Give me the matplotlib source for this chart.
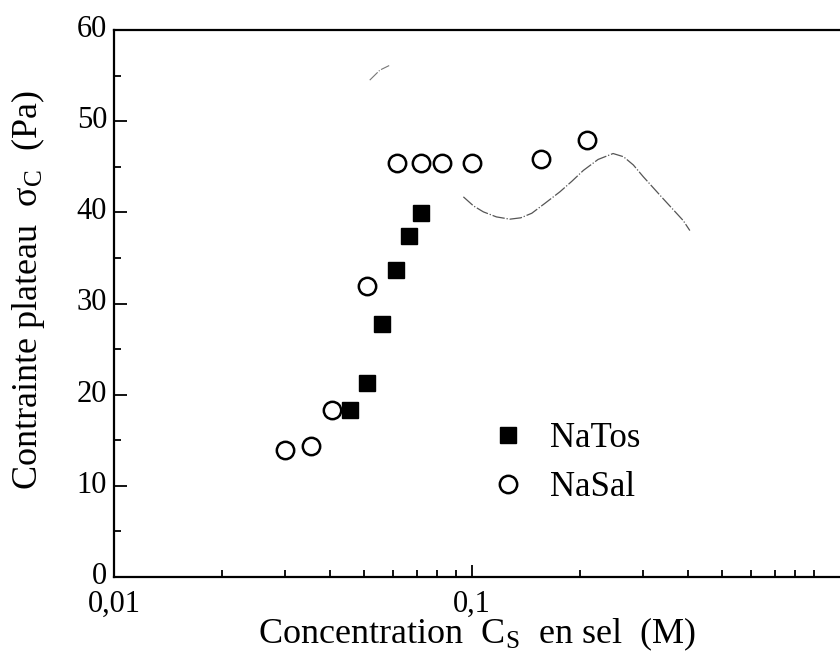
import numpy as np
import matplotlib
matplotlib.use("Agg")
import matplotlib.pyplot as plt
import matplotlib.transforms as mtransforms
from matplotlib.ticker import FixedLocator, FixedFormatter, MultipleLocator, NullFormatter

plt.rcParams['font.family'] = ['Liberation Serif', 'DejaVu Serif']
plt.rcParams['mathtext.fontset'] = 'custom'
plt.rcParams['mathtext.rm'] = 'Liberation Serif'
plt.rcParams['mathtext.it'] = 'Liberation Serif'

# donnees
natos_c = [0.0456, 0.0509, 0.0561, 0.0613, 0.0665, 0.0720]
natos_sigma = [18.3, 21.3, 27.7, 33.7, 37.4, 39.9]

nasal_c = [0.0301, 0.0355, 0.0406, 0.0509, 0.0616, 0.0720, 0.0822, 0.100, 0.156, 0.209]
nasal_sigma = [13.9, 14.4, 18.3, 31.9, 45.4, 45.4, 45.4, 45.4, 45.9, 47.9]

curve_c = [0.0946, 0.1010, 0.1076, 0.1170, 0.1276, 0.1369, 0.1469, 0.160, 0.176,
           0.190, 0.2047, 0.225, 0.2478, 0.265, 0.2822, 0.301, 0.340, 0.389, 0.406]
curve_sigma = [41.7, 40.7, 40.05, 39.5, 39.25, 39.4, 39.9, 41.0, 42.25,
               43.4, 44.6, 45.8, 46.45, 46.1, 45.2, 43.9, 41.6, 39.1, 38.0]

arc_c = [0.0518, 0.0553, 0.0587]
arc_sigma = [54.5, 55.6, 56.1]

xticks = [0.01, 0.1]
xtick_labels = ["0,01", "0,1"]

fig = plt.figure(figsize=(8.4, 6.57), dpi=100)
ax = fig.add_axes([114 / 840, 80 / 657, 726 / 840, 547 / 657])

ax.plot(curve_c, curve_sigma, color="#555555", lw=0.9, dashes=(10, 1.5, 1, 1.5))
ax.plot(arc_c, arc_sigma, color="#777777", lw=0.8, dashes=(10, 1.5, 1, 1.5))

ax.plot(natos_c, natos_sigma, "s", color="black", ms=11.5, mec="black",
        label="NaTos", linestyle="none")
ax.plot(nasal_c, nasal_sigma, "o", mfc="white", mec="black", mew=1.8, ms=12.5,
        label="NaSal", linestyle="none")

ax.set_xscale("log")
ax.set_xlim(0.01, 10 ** (-2 + 726 / 358))
ax.set_ylim(0, 60)

ax.xaxis.set_major_locator(FixedLocator(xticks))
ax.xaxis.set_major_formatter(FixedFormatter(xtick_labels))
ax.xaxis.set_minor_formatter(NullFormatter())
ax.yaxis.set_major_locator(MultipleLocator(10))
ax.yaxis.set_minor_locator(MultipleLocator(5))

ax.tick_params(which="both", direction="in", top=False, right=False, labelsize=22, width=1.3)
ax.tick_params(which="major", length=9)
ax.tick_params(which="minor", length=5)
ax.tick_params(axis="x", pad=9)
ax.tick_params(axis="y", pad=5)

# les chiffres de l'axe y sont un peu au-dessus des graduations
shift_up = mtransforms.ScaledTranslation(0, 4 / 100, fig.dpi_scale_trans)
for lab in ax.get_yticklabels():
    lab.set_transform(lab.get_transform() + shift_up)

for s in ["left", "bottom", "top"]:
    ax.spines[s].set_linewidth(1.6)
ax.spines["right"].set_visible(False)

ax.set_xlabel(r"Concentration  C$_\mathrm{S}$  en sel  (M)", fontsize=26, labelpad=-2)
ax.set_ylabel(r"Contrainte plateau  $\sigma_\mathrm{C}$  (Pa)", fontsize=26)
ax.yaxis.set_label_coords(-0.092, 0.525)

leg = ax.legend(loc="upper left", bbox_to_anchor=(0.49, 0.315), frameon=False,
                fontsize=25, handletextpad=0.6, labelspacing=0.45, borderpad=0,
                handlelength=1.2)

fig.savefig("out.png", dpi=100)
